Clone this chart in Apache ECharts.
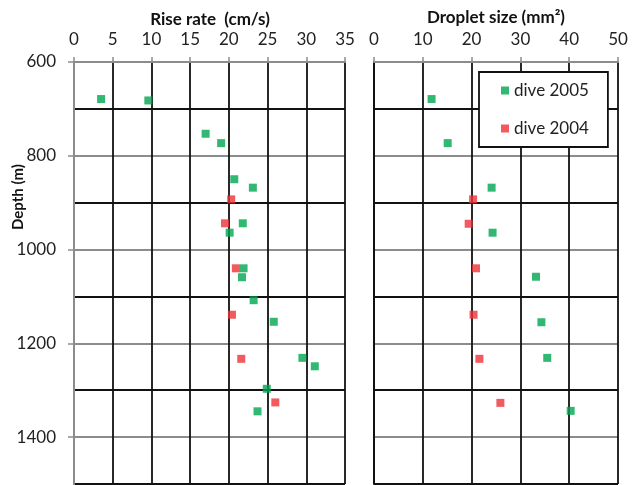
<!DOCTYPE html>
<html>
<head>
<meta charset="utf-8">
<script src="https://cdn.jsdelivr.net/npm/echarts@6/dist/echarts.min.js"></script>
<style>html,body{margin:0;padding:0;background:#fff}#c{width:638px;height:485px}</style>
</head>
<body>
<div id="c"></div>
<script>
var riseDepth2005 = [679, 682, 753, 773, 850, 868, 944, 964, 1040, 1059, 1108, 1154, 1231, 1249, 1297, 1345];
var riseRate2005  = [3.5, 9.6, 17.0, 19.0, 20.7, 23.1, 21.8, 20.1, 21.9, 21.7, 23.2, 25.8, 29.5, 31.1, 24.9, 23.7];
var riseDepth2004 = [893, 944, 1040, 1139, 1233, 1326];
var riseRate2004  = [20.3, 19.5, 20.9, 20.4, 21.6, 26.0];
var sizeDepth2005 = [679, 773, 868, 964, 1058, 1155, 1231, 1344];
var size2005      = [11.8, 15.1, 24.1, 24.3, 33.2, 34.3, 35.5, 40.3];
var sizeDepth2004 = [893, 945, 1040, 1139, 1233, 1327];
var size2004      = [20.3, 19.4, 20.9, 20.4, 21.6, 25.9];
var legendNames = ['dive 2005', 'dive 2004'];
var riseTitle = 'Rise rate  (cm/s)';
var sizeTitle = 'Droplet size (mm\u00B2)';
var depthTitle = 'Depth (m)';

function pairs(xs, ys) { return xs.map(function (x, i) { return [x, ys[i]]; }); }

var GREEN = '#00a651', RED = '#ed3237';
var FONT = 'Lato';
var chart = echarts.init(document.getElementById('c'), null, {renderer: 'canvas'});

function xAx(gi, max, step) {
  return {
    gridIndex: gi, type: 'value', position: 'top', min: 0, max: max, interval: step,
    axisLine: {show: true, lineStyle: {color: '#8c8c8c', width: 2}},
    axisTick: {show: true, length: 5, lineStyle: {color: '#8c8c8c', width: 1.5}},
    axisLabel: {margin: 14, fontFamily: FONT, fontSize: 17, color: '#222'},
    splitLine: {show: true, lineStyle: {color: '#111', width: 1.8}}
  };
}
function yGrid(gi, lineColor) {
  return {
    gridIndex: gi, type: 'value', position: 'left', inverse: true, min: 600, max: 1500, interval: 100,
    axisLine: {show: true, lineStyle: {color: lineColor, width: 2}},
    axisTick: {show: false}, axisLabel: {show: false},
    splitLine: {show: true, lineStyle: {color: ['#8c8c8c', '#111'], width: 1.8}}
  };
}

chart.setOption({
  animation: false,
  grid: [
    {left: 74, top: 62, width: 271, height: 422},
    {left: 374, top: 62, width: 244, height: 422}
  ],
  xAxis: [xAx(0, 35, 5), xAx(1, 50, 10)],
  yAxis: [
    yGrid(0, '#8c8c8c'),
    {
      gridIndex: 0, type: 'value', position: 'left', offset: 0, inverse: true, min: 600, max: 1500, interval: 200,
      axisLine: {show: true, lineStyle: {color: '#8c8c8c', width: 2}},
      axisTick: {show: true, length: 6, lineStyle: {color: '#8c8c8c', width: 1.5}},
      axisLabel: {margin: 18, fontFamily: FONT, fontSize: 17, color: '#222', showMaxLabel: false,
                  formatter: function (v) { return String(v); }},
      splitLine: {show: false}
    },
    yGrid(1, '#111')
  ],
  legend: {
    left: 479, top: 72, orient: 'vertical',
    data: legendNames,
    icon: 'rect', itemWidth: 8, itemHeight: 8, itemGap: 21,
    padding: [10, 19, 10, 22],
    backgroundColor: '#fff', borderColor: '#111', borderWidth: 1.8, borderRadius: 0,
    textStyle: {fontFamily: FONT, fontSize: 17, color: '#222'}
  },
  graphic: [
    {type: 'text', x: 210, y: 20, style: {text: riseTitle, textAlign: 'center', textVerticalAlign: 'middle', font: 'bold 17px Lato', fill: '#111'}},
    {type: 'text', x: 496, y: 18, style: {text: sizeTitle, textAlign: 'center', textVerticalAlign: 'middle', font: 'bold 17px Lato', fill: '#111'}},
    {type: 'text', x: 18, y: 197, rotation: Math.PI / 2, style: {text: depthTitle, textAlign: 'center', textVerticalAlign: 'middle', font: 'bold 15px Lato', fill: '#111'}}
  ],
  series: [
    {name: 'dive 2004', type: 'scatter', xAxisIndex: 0, yAxisIndex: 0, symbol: 'rect', symbolSize: 8,
     itemStyle: {color: RED}, data: pairs(riseRate2004, riseDepth2004)},
    {name: 'dive 2005', type: 'scatter', xAxisIndex: 0, yAxisIndex: 0, symbol: 'rect', symbolSize: 8,
     itemStyle: {color: GREEN}, data: pairs(riseRate2005, riseDepth2005)},
    {name: 'dive 2004', type: 'scatter', xAxisIndex: 1, yAxisIndex: 2, symbol: 'rect', symbolSize: 8,
     itemStyle: {color: RED}, data: pairs(size2004, sizeDepth2004)},
    {name: 'dive 2005', type: 'scatter', xAxisIndex: 1, yAxisIndex: 2, symbol: 'rect', symbolSize: 8,
     itemStyle: {color: GREEN}, data: pairs(size2005, sizeDepth2005)}
  ]
});
</script>
</body>
</html>
